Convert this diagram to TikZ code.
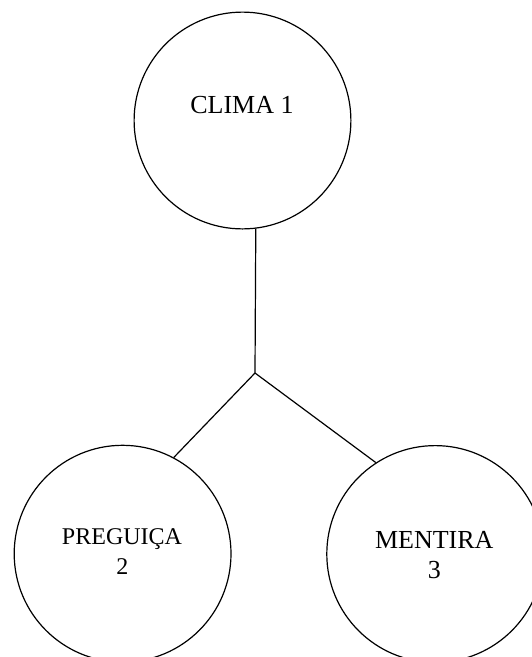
\documentclass[tikz,border=0pt]{standalone}
\usepackage{fontspec}
\setmainfont{Liberation Serif}
\begin{document}
\begin{tikzpicture}[x=1pt,y=-1pt,
  bubble/.style={circle,draw,line width=1.2pt,minimum size=216.8pt,inner sep=0pt},
  conn/.style={line width=1.2pt},
  lbl/.style={anchor=base,inner sep=0pt}]
\useasboundingbox (0,0) rectangle (531,657);
\node[bubble] (clima) at (242.5,120.5) {};
\node[bubble] (preg) at (122.6,553.7) {};
\node[bubble] (ment) at (435.2,554) {};
\node[lbl,font=\fontsize{26}{30}\selectfont] (tclima) at (242,113) {CLIMA 1};
\node[lbl,font=\fontsize{24}{29}\selectfont] (tpreg) at (122,544.6) {PREGUIÇA};
\node[lbl,font=\fontsize{24}{29}\selectfont] (tpreg2) at (122.4,574) {2};
\node[lbl,font=\fontsize{26}{30}\selectfont] (tment) at (434.3,548.6) {MENTIRA};
\node[lbl,font=\fontsize{26}{30}\selectfont] (tment2) at (434.3,578) {3};
\coordinate (j) at (255,373);
\draw[conn] (clima.-83.4) -- (j);
\draw[conn] (j) -- (preg.62.7);
\draw[conn] (j) -- (ment.123.5);
\end{tikzpicture}
\end{document}
